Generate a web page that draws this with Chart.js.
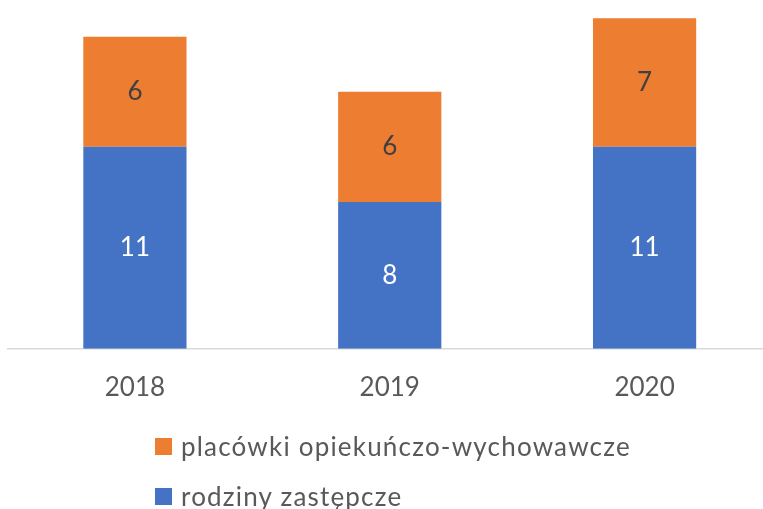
<!DOCTYPE html>
<html>
<head>
<meta charset="utf-8">
<script src="https://cdn.jsdelivr.net/npm/chart.js@4.4.1/dist/chart.umd.min.js"></script>
<style>
  html, body { margin: 0; padding: 0; background: #fff; overflow: hidden; }
  #wrap { position: relative; width: 763px; height: 509px; overflow: hidden; }
  #chartBox { position: absolute; left: 0; top: 0; width: 772px; height: 428px; }
  #legend { position: absolute; left: 155px; top: 421px; font-family: Lato, sans-serif; font-size: 26px; letter-spacing: 1.2px; color: #595959; }
  .item { display: flex; align-items: center; height: 50px; }
  .sw { width: 17px; height: 17px; margin-right: 9px; }
</style>
</head>
<body>
<div id="wrap">
  <div id="chartBox"><canvas id="c" width="772" height="428"></canvas></div>
  <div id="legend"></div>
</div>
<script>
const categories = ['2018', '2019', '2020'];
const rodzinyZastepcze = [11, 8, 11];
const placowki = [6, 6, 7];
const seriesNames = ['rodziny zastępcze', 'placówki opiekuńczo-wychowawcze'];
const seriesColors = ['#4472C4', '#ED7D31'];
const labelColors = ['#ffffff', '#404040'];

const valueLabels = {
  id: 'valueLabels',
  afterDatasetsDraw(chart) {
    const ctx = chart.ctx;
    ctx.save();
    ctx.font = '26px Lato, sans-serif';
    ctx.textAlign = 'center';
    ctx.textBaseline = 'middle';
    chart.data.datasets.forEach((ds, i) => {
      const meta = chart.getDatasetMeta(i);
      meta.data.forEach((bar, j) => {
        const p = bar.getProps(['x', 'y', 'base'], true);
        ctx.fillStyle = labelColors[i];
        ctx.fillText(String(ds.data[j]), p.x, (p.y + p.base) / 2);
      });
    });
    ctx.restore();
  }
};

const chart = new Chart(document.getElementById('c'), {
  type: 'bar',
  data: {
    labels: categories,
    datasets: [
      { label: seriesNames[0], data: rodzinyZastepcze, backgroundColor: seriesColors[0] },
      { label: seriesNames[1], data: placowki, backgroundColor: seriesColors[1] }
    ]
  },
  options: {
    responsive: false,
    animation: false,
    layout: { padding: { left: 7.5, right: 0, top: 0, bottom: 10 } },
    plugins: { legend: { display: false }, tooltip: { enabled: false } },
    datasets: { bar: { categoryPercentage: 1, barPercentage: 0.405 } },
    scales: {
      x: {
        stacked: true,
        grid: { display: false },
        border: { display: true, color: '#d9d9d9', width: 1.5 },
        ticks: { color: '#595959', font: { family: 'Lato, sans-serif', size: 26 }, padding: 15 }
      },
      y: {
        stacked: true,
        display: false,
        min: 0,
        max: 19
      }
    }
  },
  plugins: [valueLabels]
});

const legend = document.getElementById('legend');
[1, 0].forEach(i => {
  const d = document.createElement('div');
  d.className = 'item';
  const s = document.createElement('span');
  s.className = 'sw';
  s.style.background = seriesColors[i];
  const t = document.createElement('span');
  t.textContent = seriesNames[i];
  d.appendChild(s); d.appendChild(t);
  legend.appendChild(d);
});
</script>
</body>
</html>
